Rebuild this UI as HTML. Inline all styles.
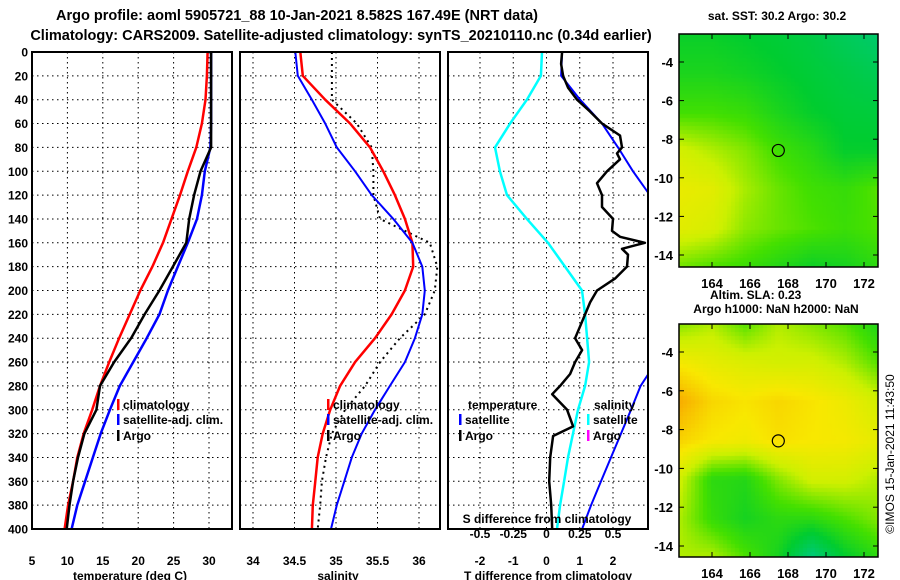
<!DOCTYPE html>
<html><head><meta charset="utf-8"><style>
body{margin:0;background:#fff;}
svg text{font-family:"Liberation Sans",Arial,sans-serif;font-weight:bold;fill:#000;}
#wrap{position:relative;width:900px;height:580px;}
canvas{position:absolute;}
</style></head><body>
<div id="wrap">
<canvas id="map1" width="199" height="233" style="left:679px;top:34px"></canvas>
<canvas id="map2" width="199" height="233" style="left:679px;top:324px"></canvas>
<svg id="svg" width="900" height="580" style="position:absolute;left:0;top:0" xmlns="http://www.w3.org/2000/svg">
<text x="297" y="20" font-size="14.5" text-anchor="middle">Argo profile: aoml 5905721_88 10-Jan-2021 8.582S 167.49E (NRT data)</text>
<text x="341" y="40" font-size="14.5" text-anchor="middle">Climatology: CARS2009. Satellite-adjusted climatology: synTS_20210110.nc (0.34d earlier)</text>
<text x="777" y="20" font-size="12" text-anchor="middle">sat. SST: 30.2 Argo: 30.2</text>
<text x="710" y="299" font-size="12">Altim. SLA: 0.23</text>
<text x="776" y="313" font-size="12" text-anchor="middle">Argo h1000: NaN h2000: NaN</text>
<text transform="translate(894,454) rotate(-90)" font-size="12" text-anchor="middle" style="font-weight:normal">©IMOS 15-Jan-2021 11:43:50</text>
</svg>
</div>
<script>
// ---- data ----
const depths = [0,20,40,60,80,100,120,140,160,180,200,220,240,260,280,300,320,340,360,380,400];
const tempClim = [29.8,29.7,29.5,29.0,28.2,27.0,25.9,24.7,23.5,22.0,20.3,18.8,17.3,15.9,14.6,13.5,12.3,11.4,10.8,10.1,9.6];
const tempSat = [30.3,30.3,30.3,30.3,30.2,29.4,29.0,28.3,27.0,25.6,24.2,23.0,21.2,19.3,17.4,16.0,14.7,13.6,12.5,11.4,10.6];
const tempArgo = [30.3,30.3,30.3,30.3,30.3,28.8,27.9,27.2,26.8,24.9,23.0,20.9,19.0,16.6,14.6,14.1,12.4,11.5,10.8,10.3,9.9];
const salClim = [34.57,34.60,34.87,35.17,35.41,35.57,35.71,35.83,35.92,35.93,35.83,35.67,35.47,35.23,35.05,34.93,34.84,34.78,34.75,34.72,34.71];
const salSat = [34.51,34.54,34.71,34.87,35.01,35.23,35.43,35.69,35.92,36.04,36.07,36.04,35.95,35.83,35.65,35.47,35.31,35.19,35.10,35.01,34.94];
const salArgo = [34.95,34.95,34.95,35.25,35.43,35.45,35.45,35.53,36.13,36.22,36.19,36.07,35.77,35.53,35.35,35.11,34.95,34.88,34.83,34.81,34.78];
const sDiffSat = [-0.034,-0.042,-0.147,-0.274,-0.387,-0.350,-0.297,-0.147,0.011,0.139,0.267,0.290,0.305,0.320,0.290,0.237,0.199,0.162,0.132,0.102,0.079];
const tDiffSat = [0.47,0.44,1.01,1.67,2.15,2.60,3.11,3.5,3.8,4.0,4.0,3.9,3.6,3.3,2.83,2.54,2.24,1.94,1.64,1.34,1.07];
const argoDiffDepths = [0,10,20,30,40,50,60,70,80,85,90,100,110,120,130,140,150,155,160,165,170,180,190,200,210,220,230,240,250,260,270,280,287,300,314,322,340,360,380,400];
const tDiffArgo = [0.47,0.44,0.50,0.65,0.92,1.31,1.67,2.21,2.27,2.12,2.21,1.82,1.52,1.67,1.67,2.00,1.97,2.21,2.96,2.27,2.45,2.42,2.06,1.52,1.31,1.16,1.01,0.86,1.07,0.86,0.71,0.41,0.17,0.62,0.80,0.20,0.11,0.08,0.14,0.17];
const depthTicks = [0,20,40,60,80,100,120,140,160,180,200,220,240,260,280,300,320,340,360,380,400];
const tempTicks = [5,10,15,20,25,30];
const salTicks = [34,34.5,35,35.5,36];
const salTickLabels = ['34','34.5','35','35.5','36'];
const tdTicks = [-2,-1,0,1,2];
const sdTicks = [-0.5,-0.25,0,0.25,0.5];
const sdTickLabels = ['-0.5','-0.25','0','0.25','0.5'];
const latTicks = [-4,-6,-8,-10,-12,-14];
const lonTicks = [164,166,168,170,172];
const map1Grid = [
 [0.32,0.32,0.30,0.28,0.25,0.20,0.16],
 [0.36,0.36,0.34,0.31,0.28,0.25,0.22],
 [0.44,0.44,0.42,0.36,0.31,0.28,0.27],
 [0.62,0.57,0.52,0.44,0.39,0.31,0.31],
 [0.68,0.66,0.56,0.49,0.44,0.42,0.47],
 [0.66,0.63,0.53,0.49,0.46,0.43,0.46],
 [0.50,0.46,0.43,0.38,0.33,0.35,0.40]];
const map2Grid = [
 [0.52,0.57,0.47,0.57,0.52,0.47,0.37],
 [0.71,0.67,0.64,0.62,0.62,0.57,0.47],
 [0.86,0.76,0.73,0.76,0.73,0.69,0.62],
 [0.77,0.72,0.70,0.74,0.72,0.71,0.67],
 [0.62,0.40,0.38,0.52,0.62,0.62,0.57],
 [0.57,0.42,0.35,0.40,0.40,0.46,0.52],
 [0.57,0.57,0.46,0.35,0.12,0.30,0.40]];
const argoLon = 167.49, argoLat = -8.582;

const NS='http://www.w3.org/2000/svg';
const svg=document.getElementById('svg');
function mk(tag,attrs,parent){const e=document.createElementNS(NS,tag);for(const k in attrs)e.setAttribute(k,attrs[k]);(parent||svg).appendChild(e);return e;}
const Y0=52, Y1=529;
function yD(d){return Y0+(d/400)*(Y1-Y0);}
function linX(v0,x0,v1,x1){return v=>x0+(v-v0)*(x1-x0)/(v1-v0);}
const xT=linX(5,32,30,209);
const xS=linX(34,253,36,419);
const xTD=linX(0,546.5,1,579.75);
const xSD=linX(0,546.5,0.25,579.75);

function panel(name,L,R,xs,xticks,labels,gridTicks){
  const g=mk('g',{});
  
  
  const cid='clip-'+name;
  const cp=mk('clipPath',{id:cid},g);mk('rect',{x:L,y:Y0,width:R-L,height:Y1-Y0},cp);
  depthTicks.forEach(d=>{if(d>0&&d<400){const l=mk('line',{x1:L,x2:R,y1:yD(d),y2:yD(d),stroke:'#000','stroke-width':1,'stroke-dasharray':'1.5,3.5'},g);
    }});
  gridTicks.forEach(v=>{const x=xs(v);if(x>L+2&&x<R-2){const l=mk('line',{x1:x,x2:x,y1:Y0,y2:Y1,stroke:'#000','stroke-width':1,'stroke-dasharray':'1.5,3.5'},g);
    }});
  xticks.forEach((v,i)=>{const t=mk('text',{x:xs(v),y:565,'font-size':12,'text-anchor':'middle'},g);t.textContent=labels[i];
    });
  return {g,cid,L,R};
}
function line(p,xs,vals,ds,color,w,name,dash){
  const pts=vals.map((v,i)=>xs(v).toFixed(1)+','+yD(ds[i]).toFixed(1)).join(' ');
  const a={points:pts,fill:'none',stroke:color,'stroke-width':w,'clip-path':'url(#'+p.cid+')','stroke-linejoin':'round'};
  if(dash)a['stroke-dasharray']=dash;
  const e=mk('polyline',a,p.g);
  
  
}
function frame(p){const r=mk('rect',{x:p.L,y:Y0,width:p.R-p.L,height:Y1-Y0,fill:'none',stroke:'#000','stroke-width':2},p.g);
  }
function legend(p,x,y,color,label,name){
  const g=mk('g',{},p.g);
  
  
  if(color)mk('rect',{x:x,y:y-10,width:2.5,height:11,fill:color},g);
  const t=mk('text',{x:x+6,y:y,'font-size':12},g);t.textContent=label;
}

// panel 1 temperature
const p1=panel('temperature-panel',32,232,xT,tempTicks,tempTicks.map(String),tempTicks);
line(p1,xT,tempClim,depths,'#f00',2.5,'temp-climatology-line');
line(p1,xT,tempSat,depths,'#00f',2.5,'temp-satellite-line');
line(p1,xT,tempArgo,depths,'#000',2.5,'temp-argo-line');
frame(p1);
depthTicks.forEach(d=>{const t=mk('text',{x:28,y:yD(d)+4.5,'font-size':12,'text-anchor':'end'});t.textContent=d;
  });
{const t=mk('text',{x:130,y:580,'font-size':12,'text-anchor':'middle'});t.textContent='temperature (deg C)';
 }
legend(p1,117,409,'#f00','climatology','legend-climatology');
legend(p1,117,424,'#00f','satellite-adj. clim.','legend-satellite');
legend(p1,117,440,'#000','Argo','legend-argo');

// panel 2 salinity
const p2=panel('salinity-panel',240,440,xS,salTicks,salTickLabels,salTicks);
line(p2,xS,salArgo,depths,'#000',2,'sal-argo-line','2,4');
line(p2,xS,salClim,depths,'#f00',2.5,'sal-climatology-line');
line(p2,xS,salSat,depths,'#00f',2,'sal-satellite-line');
frame(p2);
{const t=mk('text',{x:338,y:580,'font-size':12,'text-anchor':'middle'});t.textContent='salinity';
 }
legend(p2,327,409,'#f00','climatology','legend-climatology');
legend(p2,327,424,'#00f','satellite-adj. clim.','legend-satellite');
legend(p2,327,440,'#000','Argo','legend-argo');

// panel 3 differences
const p3=panel('difference-panel',448,648,xTD,tdTicks,tdTicks.map(String),tdTicks);
line(p3,xSD,sDiffSat,depths,'#0ff',2.5,'sal-diff-satellite-line');
line(p3,xTD,tDiffSat,depths,'#00f',2,'temp-diff-satellite-line');
line(p3,xTD,tDiffArgo,argoDiffDepths,'#000',2.5,'temp-diff-argo-line');
frame(p3);
{const t=mk('text',{x:548,y:580,'font-size':12,'text-anchor':'middle'});t.textContent='T difference from climatology';
 }
{const t=mk('text',{x:547,y:523,'font-size':12,'text-anchor':'middle'});t.textContent='S difference from climatology';
 }
sdTicks.forEach((v,i)=>{const t=mk('text',{x:xSD(v),y:538,'font-size':12,'text-anchor':'middle'});t.textContent=sdTickLabels[i];
  });
legend(p3,462,409,null,'temperature','legend-temperature-header');
legend(p3,459,424,'#00f','satellite','legend-temp-satellite');
legend(p3,459,440,'#000','Argo','legend-temp-argo');
legend(p3,588,409,null,'salinity','legend-salinity-header');
legend(p3,587,424,'#0ff','satellite','legend-sal-satellite');
legend(p3,587,440,'#f0f','Argo','legend-sal-argo');

// maps
const cmap=[[0,[0,200,176]],[0.3,[0,204,48]],[0.45,[68,224,0]],[0.6,[204,240,0]],[0.72,[248,232,0]],[0.85,[248,176,0]],[1,[240,140,0]]];
function col(v){for(let i=1;i<cmap.length;i++){if(v<=cmap[i][0]){const a=cmap[i-1],b=cmap[i];const t=(v-a[0])/(b[0]-a[0]);
  return 'rgb('+a[1].map((c,k)=>Math.round(c+(b[1][k]-c)*t)).join(',')+')';}}return 'rgb(240,140,0)';}
function drawMap(id,grid){
  const c=document.getElementById(id).getContext('2d');const W=199,H=233,cs=4;
  const nr=grid.length,nc=grid[0].length;
  for(let y=0;y<H;y+=cs)for(let x=0;x<W;x+=cs){
    const gx=(x+cs/2)/W*(nc-1),gy=(y+cs/2)/H*(nr-1);
    const i=Math.min(Math.floor(gy),nr-2),j=Math.min(Math.floor(gx),nc-2);const fy=gy-i,fx=gx-j;
    const v=grid[i][j]*(1-fx)*(1-fy)+grid[i][j+1]*fx*(1-fy)+grid[i+1][j]*(1-fx)*fy+grid[i+1][j+1]*fx*fy;
    c.fillStyle=col(v);c.fillRect(x,y,cs,cs);}
}
drawMap('map1',map1Grid);drawMap('map2',map2Grid);
const lonX=linX(164,712,172,864);
function mapAxes(top,latY,name){
  const g=mk('g',{});
  
  
  mk('rect',{x:679,y:top,width:199,height:233,fill:'none',stroke:'#000','stroke-width':1.5},g);
  latTicks.forEach(v=>{const y=latY(v);mk('line',{x1:679,x2:684,y1:y,y2:y,stroke:'#000'},g);mk('line',{x1:873,x2:878,y1:y,y2:y,stroke:'#000'},g);
    const t=mk('text',{x:673,y:y+5,'font-size':13,'text-anchor':'end'},g);t.textContent=v;});
  lonTicks.forEach(v=>{const x=lonX(v);mk('line',{x1:x,x2:x,y1:top,y2:top+5,stroke:'#000'},g);mk('line',{x1:x,x2:x,y1:top+228,y2:top+233,stroke:'#000'},g);
    const t=mk('text',{x:x,y:top+254,'font-size':13,'text-anchor':'middle'},g);t.textContent=v;});
  const m=mk('circle',{cx:lonX(argoLon),cy:latY(argoLat),r:6,fill:'none',stroke:'#000','stroke-width':1.2},g);
  
  
}
mapAxes(34,linX(-4,62,-14,255),'sst-map-axes');
mapAxes(324,linX(-4,352,-14,546),'sla-map-axes');
</script>
</body></html>
